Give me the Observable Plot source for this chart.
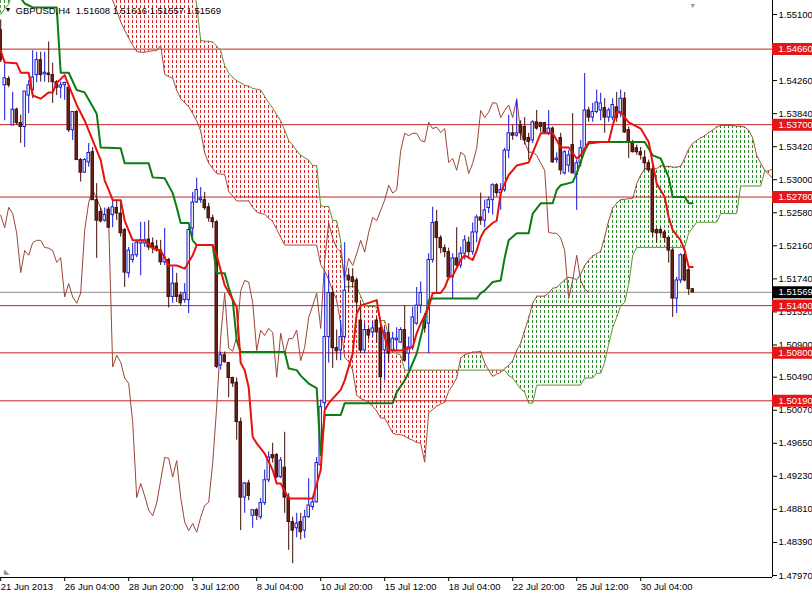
<!DOCTYPE html>
<html><head><meta charset="utf-8">
<script src="https://cdn.jsdelivr.net/npm/d3@7"></script>
<script src="https://cdn.jsdelivr.net/npm/@observablehq/plot@0.6"></script>
<style>
html,body{margin:0;padding:0;background:#fff;}
#chart{width:812px;height:594px;overflow:hidden;}
</style></head><body><div id="chart"></div>
<script>
// ---------- DATA (GBPUSD H4, 21 Jun - 31 Jul 2013) ----------
const open = [
1.5490,1.5420,1.5428,1.5369,1.5389,1.5372,1.5367,1.5407,1.5414,1.5433,
1.5452,1.5434,1.5435,1.5433,1.5424,1.5417,1.5420,1.5417,1.5363,1.5386,
1.5325,1.5309,1.5322,1.5335,1.5274,1.5259,1.5248,1.5262,1.5255,1.5264,
1.5257,1.5236,1.5181,1.5198,1.5204,1.5219,1.5219,1.5224,1.5219,1.5215,
1.5210,1.5195,1.5198,1.5151,1.5168,1.5153,1.5147,1.5147,1.5238,1.5271,
1.5274,1.5274,1.5265,1.5251,1.5246,1.5064,1.5077,1.5067,1.5048,1.5042,
1.4992,1.4896,1.4914,1.4873,1.4880,1.4871,1.4889,1.4918,1.4950,1.4950,
1.4922,1.4934,1.4896,1.4865,1.4857,1.4865,1.4854,1.4871,1.4884,1.4890,
1.4937,1.5016,1.5100,1.5156,1.5086,1.5083,1.5100,1.5178,1.5176,1.5172,
1.5121,1.5083,1.5109,1.5106,1.5121,1.5111,1.5083,1.5105,1.5083,1.5096,
1.5093,1.5109,1.5079,1.5087,1.5117,1.5140,1.5121,1.5117,1.5198,1.5246,
1.5226,1.5213,1.5208,1.5176,1.5200,1.5191,1.5206,1.5220,1.5208,1.5233,
1.5252,1.5248,1.5264,1.5274,1.5293,1.5283,1.5287,1.5337,1.5359,1.5356,
1.5369,1.5367,1.5353,1.5350,1.5373,1.5372,1.5372,1.5359,1.5365,1.5325,
1.5353,1.5308,1.5318,1.5344,1.5306,1.5321,1.5337,1.5388,1.5379,1.5386,
1.5388,1.5391,1.5379,1.5379,1.5392,1.5384,1.5403,1.5363,1.5346,1.5340,
1.5335,1.5328,1.5321,1.5312,1.5236,1.5236,1.5233,1.5226,1.5210,1.5149,
1.5172,1.5204,1.5185,1.51608];
const high = [
1.5503,1.5452,1.5431,1.5411,1.5391,1.5382,1.5412,1.5426,1.5464,1.5462,
1.5462,1.5462,1.5475,1.5448,1.5426,1.5424,1.5424,1.5420,1.5386,1.5388,
1.5327,1.5327,1.5346,1.5341,1.5295,1.5264,1.5264,1.5265,1.5274,1.5274,
1.5274,1.5238,1.5214,1.5219,1.5223,1.5246,1.5246,1.5248,1.5226,1.5223,
1.5223,1.5238,1.5200,1.5189,1.5181,1.5157,1.5168,1.5239,1.5284,1.5302,
1.5290,1.5284,1.5270,1.5255,1.5248,1.5081,1.5081,1.5068,1.5049,1.5048,
1.4997,1.4915,1.4918,1.4880,1.4882,1.4895,1.4931,1.4954,1.4965,1.4952,
1.4947,1.4979,1.4901,1.4871,1.4876,1.4876,1.4880,1.4920,1.4896,1.4947,
1.5020,1.5181,1.5181,1.5162,1.5109,1.5121,1.5220,1.5187,1.5187,1.5175,
1.5143,1.5117,1.5111,1.5119,1.5125,1.5115,1.5112,1.5117,1.5106,1.5112,
1.5112,1.5140,1.5100,1.5138,1.5163,1.5170,1.5130,1.5206,1.5265,1.5261,
1.5229,1.5217,1.5213,1.5206,1.5239,1.5214,1.5229,1.5227,1.5245,1.5255,
1.5283,1.5274,1.5278,1.5295,1.5295,1.5295,1.5340,1.5382,1.5369,1.5401,
1.5375,1.5379,1.5359,1.5375,1.5388,1.5373,1.5373,1.5388,1.5367,1.5334,
1.5359,1.5337,1.5337,1.5384,1.5325,1.5350,1.5435,1.5392,1.5397,1.5414,
1.5410,1.5403,1.5391,1.5403,1.5411,1.5414,1.5411,1.5367,1.5350,1.5344,
1.5341,1.5337,1.5325,1.5318,1.5238,1.5239,1.5236,1.5227,1.5213,1.5176,
1.5206,1.5213,1.5187,1.51616];
const low = [
1.5449,1.5375,1.5417,1.5369,1.5369,1.5346,1.5341,1.5384,1.5403,1.5423,
1.5424,1.5424,1.5423,1.5397,1.5407,1.5403,1.5401,1.5360,1.5350,1.5325,
1.5297,1.5308,1.5316,1.5274,1.5200,1.5245,1.5246,1.5239,1.5239,1.5248,
1.5227,1.5163,1.5175,1.5194,1.5201,1.5178,1.5214,1.5210,1.5206,1.5208,
1.5191,1.5191,1.5137,1.5143,1.5144,1.5140,1.5143,1.5130,1.5227,1.5270,
1.5270,1.5261,1.5246,1.5238,1.5060,1.5058,1.5067,1.5023,1.5036,1.4969,
1.4854,1.4876,1.4892,1.4857,1.4867,1.4868,1.4886,1.4915,1.4940,1.4920,
1.4920,1.4876,1.4829,1.4812,1.4845,1.4842,1.4844,1.4870,1.4880,1.4889,
1.4934,1.5007,1.5067,1.5060,1.5070,1.5070,1.5096,1.5156,1.5163,1.5131,
1.5079,1.5079,1.5096,1.5100,1.5092,1.5028,1.5045,1.5067,1.5081,1.5083,
1.5092,1.5068,1.5058,1.5083,1.5115,1.5130,1.5105,1.5079,1.5194,1.5156,
1.5206,1.5201,1.5172,1.5149,1.5189,1.5187,1.5198,1.5201,1.5204,1.5220,
1.5242,1.5239,1.5257,1.5255,1.5278,1.5261,1.5284,1.5327,1.5350,1.5354,
1.5350,1.5344,1.5325,1.5346,1.5363,1.5360,1.5359,1.5356,1.5321,1.5321,
1.5306,1.5306,1.5309,1.5308,1.5261,1.5316,1.5335,1.5373,1.5373,1.5384,
1.5375,1.5359,1.5373,1.5375,1.5373,1.5379,1.5359,1.5327,1.5334,1.5331,
1.5325,1.5312,1.5309,1.5227,1.5219,1.5229,1.5220,1.5194,1.5125,1.5130,
1.5168,1.5170,1.5153,1.51557];
const close = [
1.5452,1.5429,1.5420,1.5389,1.5372,1.5367,1.5412,1.5420,1.5430,1.5452,
1.5433,1.5436,1.5433,1.5424,1.5417,1.5420,1.5423,1.5363,1.5386,1.5325,
1.5309,1.5325,1.5334,1.5274,1.5248,1.5247,1.5255,1.5239,1.5265,1.5257,
1.5232,1.5182,1.5210,1.5204,1.5220,1.5223,1.5223,1.5214,1.5213,1.5210,
1.5195,1.5201,1.5151,1.5168,1.5151,1.5143,1.5156,1.5236,1.5271,1.5287,
1.5276,1.5264,1.5251,1.5246,1.5062,1.5077,1.5068,1.5048,1.5041,1.4992,
1.4896,1.4914,1.4898,1.4880,1.4873,1.4889,1.4918,1.4947,1.4946,1.4922,
1.4943,1.4896,1.4865,1.4854,1.4863,1.4852,1.4871,1.4886,1.4890,1.4940,
1.5011,1.5100,1.5156,1.5086,1.5082,1.5100,1.5159,1.5172,1.5170,1.5144,
1.5083,1.5109,1.5102,1.5111,1.5106,1.5049,1.5105,1.5079,1.5098,1.5098,
1.5109,1.5070,1.5087,1.5125,1.5140,1.5156,1.5111,1.5198,1.5245,1.5226,
1.5213,1.5208,1.5176,1.5200,1.5191,1.5206,1.5223,1.5208,1.5233,1.5252,
1.5248,1.5261,1.5274,1.5293,1.5283,1.5287,1.5337,1.5359,1.5356,1.5359,
1.5359,1.5350,1.5348,1.5373,1.5365,1.5367,1.5360,1.5365,1.5322,1.5327,
1.5312,1.5335,1.5331,1.5308,1.5321,1.5340,1.5388,1.5379,1.5386,1.5398,
1.5397,1.5379,1.5388,1.5395,1.5379,1.5403,1.5360,1.5348,1.5335,1.5335,
1.5331,1.5321,1.5312,1.5233,1.5232,1.5232,1.5226,1.5210,1.5149,1.5172,
1.5204,1.5172,1.5161,1.51569];

// Tenkan-sen (red) vertices: bar index and price
const tenkanBar = [0,1,4,5,7,8,10,12,13,14,16,17,19,21,23,25,26,27,28,30,31,33,36,38,40,42,44,46,48,49,53,54,55,56,57,59,60,61,62,63,64,66,68,69,70,72,78,80,81,82,85,86,88,89,90,94,95,96,97,100,103,104,105,107,108,110,111,112,113,115,116,118,119,120,121,123,124,125,126,127,129,132,133,135,138,140,142,144,145,147,152,153,154,155,157,160,162,163,164,166,167,168,170,171,172,173];
const tenkanVal = [1.5464,1.5449,1.5448,1.5436,1.5436,1.5407,1.5403,1.5411,1.5411,1.5423,1.5433,1.5420,1.5395,1.5375,1.5350,1.5325,1.5299,1.5287,1.5274,1.5274,1.5248,1.5223,1.5223,1.5213,1.5210,1.5191,1.5191,1.5187,1.5204,1.5217,1.5217,1.5204,1.5185,1.5166,1.5157,1.5138,1.5067,1.5058,1.5036,1.4973,1.4965,1.4952,1.4931,1.4914,1.4914,1.4895,1.4895,1.4931,1.5007,1.5016,1.5033,1.5045,1.5079,1.5130,1.5140,1.5147,1.5117,1.5100,1.5083,1.5083,1.5087,1.5105,1.5117,1.5138,1.5156,1.5156,1.5163,1.5176,1.5178,1.5198,1.5204,1.5198,1.5210,1.5227,1.5236,1.5245,1.5248,1.5283,1.5295,1.5306,1.5318,1.5322,1.5334,1.5359,1.5359,1.5341,1.5341,1.5327,1.5331,1.5348,1.5348,1.5369,1.5386,1.5386,1.5373,1.5365,1.5348,1.5321,1.5295,1.5278,1.5252,1.5236,1.5223,1.5210,1.5189,1.5189];

// Kijun-sen (green) vertices
const kijunBar = [0,3,5,6,8,14,15,17,19,21,24,25,30,31,37,38,41,43,44,45,47,48,49,53,54,56,57,58,59,60,71,72,74,75,77,79,80,81,85,86,98,99,101,102,104,105,106,107,108,119,120,121,123,125,126,127,129,132,133,135,138,139,140,143,144,146,147,150,161,163,165,167,168,171,172,173];
const kijunVal = [1.5630,1.5579,1.5531,1.5524,1.5519,1.5519,1.5436,1.5436,1.5414,1.5411,1.5384,1.5341,1.5340,1.5321,1.5321,1.5303,1.5302,1.5283,1.5265,1.5245,1.5245,1.5223,1.5217,1.5217,1.5181,1.5181,1.5163,1.5147,1.5096,1.5081,1.5081,1.5060,1.5058,1.5051,1.5041,1.5035,1.4950,1.5001,1.5001,1.5016,1.5016,1.5030,1.5045,1.5055,1.5079,1.5100,1.5121,1.5147,1.5149,1.5149,1.5156,1.5159,1.5170,1.5172,1.5201,1.5223,1.5232,1.5232,1.5257,1.5270,1.5270,1.5287,1.5293,1.5297,1.5308,1.5337,1.5346,1.5348,1.5348,1.5331,1.5327,1.5303,1.5278,1.5278,1.5270,1.5270];

// Senkou span A and B, one value per bar (already displaced 26 bars forward)
const spanA = [
1.5579,1.5579,1.5579,1.5579,1.5579,1.5579,1.5579,1.5579,1.5579,1.5579,
1.5579,1.5579,1.5579,1.5579,1.5579,1.5579,1.5579,1.5579,1.5579,1.5579,
1.5579,1.5579,1.5579,1.5579,1.5572,1.5560,1.5547,1.5537,1.5528,1.5515,
1.5501,1.5490,1.5480,1.5471,1.5463,1.5462,1.5462,1.5463,1.5464,1.5464,
1.5471,1.5434,1.5431,1.5429,1.5414,1.5403,1.5398,1.5393,1.5384,1.5375,
1.5362,1.5334,1.5321,1.5314,1.5308,1.5307,1.5307,1.5285,1.5279,1.5273,
1.5273,1.5273,1.5273,1.5265,1.5259,1.5257,1.5256,1.5251,1.5247,1.5237,
1.5227,1.5217,1.5217,1.5217,1.5217,1.5217,1.5217,1.5217,1.5217,1.5217,
1.5192,1.5184,1.5173,1.5159,1.5147,1.5117,1.5074,1.5069,1.5058,1.5026,
1.5022,1.5020,1.5017,1.5012,1.5006,1.4997,1.4997,1.4988,1.4978,1.4976,
1.4976,1.4974,1.4971,1.4969,1.4966,1.4965,1.4941,1.5004,1.5008,1.5012,
1.5015,1.5017,1.5031,1.5039,1.5048,1.5073,1.5078,1.5079,1.5081,1.5081,
1.5082,1.5067,1.5058,1.5050,1.5053,1.5055,1.5060,1.5064,1.5070,1.5083,
1.5092,1.5109,1.5124,1.5143,1.5152,1.5152,1.5152,1.5156,1.5162,1.5163,
1.5168,1.5173,1.5176,1.5175,1.5173,1.5180,1.5191,1.5198,1.5203,1.5206,
1.5209,1.5227,1.5248,1.5264,1.5270,1.5275,1.5275,1.5276,1.5276,1.5295,
1.5306,1.5314,1.5314,1.5314,1.5314,1.5318,1.5317,1.5317,1.5316,1.5316,
1.5317,1.5327,1.5339,1.5346,1.5350,1.5353,1.5356,1.5360,1.5363,1.5367,
1.5369,1.5369,1.5369,1.5369,1.5368,1.5368,1.5367,1.5363,1.5353,1.5331,
1.5321,1.5312,1.5307,1.5302];
const spanB = [
1.5510,1.5517,1.5523,1.5541,1.5604,1.5604,1.5604,1.5604,1.5604,1.5604,
1.5604,1.5604,1.5604,1.5604,1.5604,1.5604,1.5604,1.5604,1.5604,1.5604,
1.5604,1.5604,1.5604,1.5604,1.5604,1.5604,1.5604,1.5604,1.5604,1.5604,
1.5604,1.5604,1.5604,1.5604,1.5604,1.5604,1.5604,1.5604,1.5604,1.5604,
1.5604,1.5604,1.5604,1.5604,1.5604,1.5604,1.5604,1.5604,1.5553,1.5522,
1.5477,1.5476,1.5476,1.5475,1.5470,1.5464,1.5445,1.5436,1.5430,1.5426,
1.5423,1.5420,1.5419,1.5416,1.5415,1.5414,1.5406,1.5398,1.5391,1.5383,
1.5375,1.5363,1.5350,1.5344,1.5337,1.5331,1.5328,1.5325,1.5318,1.5318,
1.5267,1.5266,1.5266,1.5248,1.5248,1.5222,1.5164,1.5164,1.5164,1.5164,
1.5152,1.5140,1.5139,1.5139,1.5138,1.5121,1.5121,1.5101,1.5088,1.5079,
1.5077,1.5058,1.5058,1.5058,1.5058,1.5058,1.5058,1.5058,1.5058,1.5058,
1.5058,1.5058,1.5058,1.5058,1.5058,1.5058,1.5058,1.5058,1.5058,1.5058,
1.5058,1.5058,1.5058,1.5058,1.5058,1.5058,1.5058,1.5051,1.5048,1.5041,
1.5034,1.5030,1.5016,1.5016,1.5039,1.5039,1.5039,1.5039,1.5039,1.5039,
1.5039,1.5039,1.5039,1.5039,1.5039,1.5039,1.5048,1.5048,1.5048,1.5054,
1.5054,1.5068,1.5091,1.5112,1.5125,1.5140,1.5144,1.5167,1.5204,1.5214,
1.5214,1.5214,1.5214,1.5214,1.5214,1.5214,1.5214,1.5214,1.5214,1.5214,
1.5214,1.5214,1.5232,1.5239,1.5246,1.5246,1.5246,1.5246,1.5246,1.5246,
1.5257,1.5257,1.5257,1.5257,1.5257,1.5292,1.5292,1.5292,1.5292,1.5292,
1.5292,1.5311,1.5311,1.5314];

const levels = [1.54660, 1.53700, 1.52780, 1.51400, 1.50800, 1.50190];
const lastPrice = 1.51569;
const priceTicks = [1.55100,1.54680,1.54260,1.53840,1.53420,1.53000,1.52580,1.52160,1.51740,1.51320,1.50900,1.50490,1.50070,1.49650,1.49230,1.48810,1.48390,1.47970];
const dateTickBars = [0,16,32,48,64,80,96,112,128,144,160];
const dateTickLabels = ["21 Jun 2013","26 Jun 04:00","28 Jun 20:00","3 Jul 12:00","8 Jul 04:00","10 Jul 20:00","15 Jul 12:00","18 Jul 04:00","22 Jul 20:00","25 Jul 12:00","30 Jul 04:00"];
const header = "GBPUSD,H4  1.51608 1.51616 1.51557 1.51569";
const chikouShift = 26;

// ---------- CHART ----------
const bars = d3.range(open.length);
const cloudBars = d3.range(spanA.length);
const tk = d3.range(tenkanBar.length);
const kj = d3.range(kijunBar.length);
const chikouIdx = d3.range(chikouShift, close.length);
const dateMap = new Map(dateTickBars.map((b, k) => [b, dateTickLabels[k]]));
const isBull = i => close[i] >= open[i];
const xMin = -0.05, xMax = 192.95, yMin = 1.479445, yMax = 1.55278;
const labelEnd = 203.3;

const chart = Plot.plot({
  width: 812, height: 594,
  marginLeft: 0, marginRight: 40, marginTop: 0, marginBottom: 17,
  style: {fontFamily: "'Liberation Sans', Arial, sans-serif", fontSize: "9.5px", background: "#fff", color: "#000"},
  x: {domain: [xMin, xMax], axis: null},
  y: {domain: [yMin, yMax], axis: null},
  marks: [
    // cloud fill
    Plot.areaY(cloudBars, {x: j => j, y1: j => spanA[j], y2: j => Math.max(spanA[j], spanB[j]), fill: "url(#dotsR)", clip: true}),
    Plot.areaY(cloudBars, {x: j => j, y1: j => spanB[j], y2: j => Math.max(spanA[j], spanB[j]), fill: "url(#dotsG)", clip: true}),
    // horizontal levels
    Plot.ruleY(levels, {stroke: "#c42222", strokeWidth: 1}),
    Plot.ruleY([lastPrice], {stroke: "#8c8c8c", strokeWidth: 1}),
    // span lines
    Plot.line(cloudBars, {x: j => j, y: j => spanA[j], stroke: "#a34a3c", strokeWidth: 1, clip: true}),
    Plot.line(cloudBars, {x: j => j, y: j => spanB[j], stroke: "#5f8f2c", strokeWidth: 1, clip: true}),
    // chikou span
    Plot.line(chikouIdx, {x: i => i - chikouShift, y: i => close[i], stroke: "#9a4636", strokeWidth: 1, clip: true}),
    // candles
    Plot.ruleX(bars, {x: i => i, y1: i => low[i], y2: i => high[i], stroke: i => isBull(i) ? "#1414d8" : "#3c0c06", strokeWidth: 1}),
    Plot.rect(bars, {x1: i => i - 0.3, x2: i => i + 0.3, y1: i => open[i], y2: i => close[i],
      fill: i => isBull(i) ? "#ffffff" : "#6e2216", stroke: i => isBull(i) ? "#1414d8" : "#3c0c06", strokeWidth: 1}),
    // kijun & tenkan
    Plot.line(kj, {x: k => kijunBar[k], y: k => kijunVal[k], stroke: "#0b7d12", strokeWidth: 2, clip: true}),
    Plot.line(tk, {x: k => tenkanBar[k], y: k => tenkanVal[k], stroke: "#e8120c", strokeWidth: 2, clip: true}),
    // axes
    Plot.ruleY([yMin], {stroke: "#000"}),
    Plot.ruleX([xMax], {stroke: "#000"}),
    Plot.axisY(priceTicks, {anchor: "right", tickSize: 4, tickPadding: 2, tickFormat: d => d.toFixed(5), label: null, fontSize: 9.5, fill: "#000"}),
    Plot.axisX(dateTickBars, {anchor: "bottom", tickSize: 4, tickPadding: 2, tickFormat: d => dateMap.get(d), textAnchor: "start", label: null, fontSize: 9.5, fill: "#000"}),
    // level labels
    Plot.ruleY(levels, {x1: xMax, x2: labelEnd, stroke: "#e41616", strokeWidth: 12}),
    Plot.text(levels, {x: xMax, y: d => d, text: d => d.toFixed(5), dx: 6, textAnchor: "start", fill: "#fff", fontSize: 9.5}),
    Plot.ruleY([lastPrice], {x1: xMax, x2: labelEnd, stroke: "#000", strokeWidth: 12}),
    Plot.text([lastPrice], {x: xMax, y: d => d, text: d => d.toFixed(5), dx: 6, textAnchor: "start", fill: "#fff", fontSize: 9.5}),
    // header and chart markers
    Plot.text(["\u25BC"], {frameAnchor: "top-left", dx: 4, dy: 7, fontSize: 7, fill: "#000"}),
    Plot.text([header], {frameAnchor: "top-left", dx: 15, dy: 7, textAnchor: "start", fontSize: 9.5, fill: "#000"}),
    Plot.text(["\u25BC"], {x: open.length - 1, frameAnchor: "top", dy: 3, fontSize: 7, fill: "#9a9a9a"}),
    Plot.text(["\u25E3"], {frameAnchor: "bottom-left", dx: 3, dy: -4, fontSize: 7, fill: "#8a8a8a"})
  ]
});

const svg = d3.select(chart);
const defs = svg.insert("defs", ":first-child");
const pr = defs.append("pattern").attr("id", "dotsR").attr("patternUnits", "userSpaceOnUse").attr("width", 4).attr("height", 5);
pr.append("rect").attr("x", 0).attr("y", 0).attr("width", 1).attr("height", 3).attr("fill", "#d22828");
const pg = defs.append("pattern").attr("id", "dotsG").attr("patternUnits", "userSpaceOnUse").attr("width", 4).attr("height", 5);
pg.append("rect").attr("x", 0).attr("y", 0).attr("width", 1).attr("height", 3).attr("fill", "#2a8a2a");

document.getElementById("chart").appendChild(chart);
</script>
</body></html>
